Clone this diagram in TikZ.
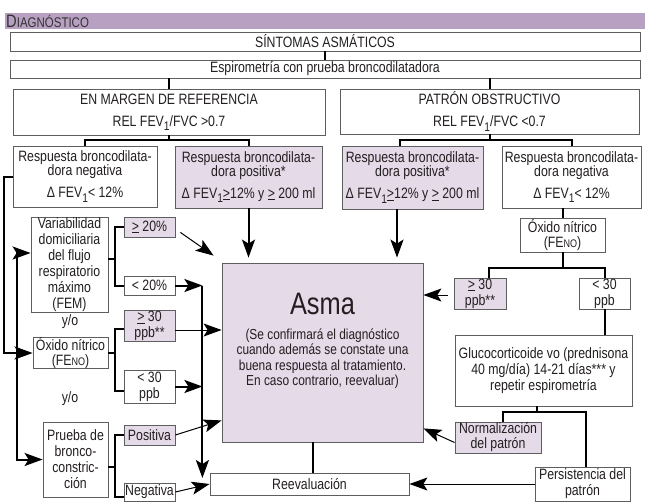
\documentclass[tikz,border=0pt]{standalone}
\usepackage{fontspec}
\setmainfont{Liberation Sans}[FakeStretch=0.82]
\usetikzlibrary{arrows.meta,calc}
\definecolor{hdr}{HTML}{B8A0C2}
\definecolor{lav}{HTML}{E4DAE8}
\definecolor{bord}{HTML}{5E5E5E}
\definecolor{txt}{HTML}{231F20}
\definecolor{hdtxt}{HTML}{333333}
\newcommand\lo[1]{\raisebox{-0.55ex}{\fontsize{12.5}{12.5}\selectfont #1}}
\newcommand\gequ{\underline{>}}
\newcommand\fs{\fontsize{15}{16}\selectfont}
\newcommand\sm{\fontsize{11}{11}\selectfont}
\begin{document}
\begin{tikzpicture}[x=1pt,y=-1pt,
  box/.style={draw=bord, line width=0.8pt, fill=white, inner sep=0pt, align=center, font=\fs, text=txt},
  pbox/.style={box, fill=lav},
  lbl/.style={inner sep=0pt, align=center, font=\fs, text=txt},
  conn/.style={draw=black, line width=2pt},
  arrT/.style={conn, -{Stealth[length=18pt,width=13pt,inset=4pt]}},
  arrt/.style={draw=black, line width=1pt, -{Stealth[length=18pt,width=13pt,inset=4pt]}}]
\useasboundingbox (0,0) rectangle (645,501);
\fill[white] (0,0) rectangle (645,501);
% header
\fill[hdr] (5,13) rectangle (645,29);
\node[anchor=west, inner sep=0pt, text=hdtxt, font=\fontsize{18}{18}\selectfont] (head) at (6,21.5) {D{\fontsize{14}{14}\selectfont IAGNÓSTICO}};
% boxes
\node[box, minimum width=630pt, minimum height=19pt] (sint) at (325,41.5) {SÍNTOMAS ASMÁTICOS};
\node[box, minimum width=630pt, minimum height=18pt] (espi) at (325,69) {Espirometría con prueba broncodilatadora};
\node[box, minimum width=312pt, minimum height=46pt] (marg) at (169,112) {EN MARGEN DE REFERENCIA\\[6pt]REL FEV\lo{1}/FVC >0.7};
\node[box, minimum width=299pt, minimum height=45pt] (patr) at (489.5,111.5) {PATRÓN OBSTRUCTIVO\\[6pt]REL FEV\lo{1}/FVC <0.7};
\node[box, minimum width=144pt, minimum height=61pt] (negL) at (85,176.5) {Respuesta broncodilata-\\[-2pt]dora negativa\\[6pt]Δ FEV\lo{1}< 12\%};
\node[pbox, minimum width=147pt, minimum height=62pt] (posL) at (248.5,177) {Respuesta broncodilata-\\[-2pt]dora positiva*\\[6pt]Δ FEV\lo{1}\gequ12\% y \gequ{} 200 ml};
\node[pbox, minimum width=141pt, minimum height=63pt] (posR) at (412.5,177.5) {Respuesta broncodilata-\\[-2pt]dora positiva*\\[6pt]Δ FEV\lo{1}\gequ12\% y \gequ{} 200 ml};
\node[box, minimum width=139pt, minimum height=62pt] (negR) at (571.5,177) {Respuesta broncodilata-\\[-2pt]dora negativa\\[6pt]Δ FEV\lo{1}< 12\%};
\node[box, minimum width=85pt, minimum height=34pt] (oxR) at (562.5,235) {Óxido nítrico\\[-1pt](FE{\sm NO})};
\node[pbox, minimum width=52pt, minimum height=31pt] (ge30R) at (480,293.5) {\gequ{} 30\\ppb**};
\node[box, minimum width=51pt, minimum height=31pt] (lt30R) at (604.5,293.5) {< 30\\ppb};
\node[box, minimum width=177pt, minimum height=71pt] (gluc) at (543.5,370.5) {Glucocorticoide vo (prednisona\\40 mg/día) 14-21 días*** y\\repetir espirometría};
\node[pbox, minimum width=86pt, minimum height=31pt] (norm) at (498,437.5) {Normalización\\[-1pt]del patrón};
\node[box, minimum width=95pt, minimum height=34pt] (pers) at (582.5,484) {Persistencia del\\patrón};
\node[pbox, minimum width=201pt, minimum height=179pt] (asma) at (322.5,352.5) {};
\node[lbl, font=\fontsize{31}{32}\selectfont] (asmaT) at (322.5,304) {Asma};
\node[lbl, font=\fontsize{14.5}{15.5}\selectfont] (asmaS) at (322.5,358.5) {(Se confirmará el diagnóstico\\cuando además se constate una\\buena respuesta al tratamiento.\\En caso contrario, reevaluar)};
\node[box, minimum width=199pt, minimum height=22pt] (reev) at (309.5,484) {Reevaluación};
\node[box, minimum width=77pt, minimum height=95pt] (vari) at (69.5,264.5) {Variabilidad\\domiciliaria\\del flujo\\respiratorio\\máximo\\(FEM)};
\node[pbox, minimum width=51pt, minimum height=20pt] (ge20) at (149.5,227) {\gequ{} 20\%};
\node[box, minimum width=51pt, minimum height=19pt] (lt20) at (149.5,285.5) {< 20\%};
\node[box, minimum width=75pt, minimum height=30pt] (oxL) at (70.5,353) {Óxido nítrico\\[-1pt](FE{\sm NO})};
\node[pbox, minimum width=51pt, minimum height=31pt] (ge30L) at (149.5,326) {\gequ{} 30\\ppb**};
\node[box, minimum width=51pt, minimum height=33pt] (lt30L) at (149.5,386.5) {< 30\\ppb};
\node[box, minimum width=65pt, minimum height=75pt] (prue) at (75.5,459.5) {Prueba de\\bronco-\\constric-\\ción};
\node[pbox, minimum width=51pt, minimum height=20pt] (posi) at (149.5,435) {Positiva};
\node[box, minimum width=51pt, minimum height=18pt] (nega) at (149.5,492) {Negativa};
\node[lbl] (yo1) at (70,322) {y/o};
\node[lbl] (yo2) at (70,399) {y/o};
% connectors top
\draw[conn] (sint.south) -- (espi.north);
\draw[conn] (espi.south -| marg.north) -- (marg.north);
\draw[conn] (espi.south -| patr.north) -- (patr.north);
\coordinate (mb) at ($(marg.south)+(0,5)$);
\draw[conn] (marg.south) -- (mb);
\draw[conn] (negL.north) |- (mb) -| (posL.north);
\coordinate (pb) at ($(patr.south)+(0,6)$);
\coordinate (pr1) at ([xshift=-12.5pt]posR.north);
\draw[conn] (patr.south) -- (pb);
\draw[conn] (pr1) |- (pb) -| (negR.north);
\draw[conn] (oxR.north |- negR.south) -- (oxR.north);
\coordinate (ob) at ($(oxR.south)+(0,16)$);
\coordinate (g3r) at ([xshift=9pt]ge30R.north);
\draw[conn] (oxR.south) -- (ob);
\draw[conn] (g3r) |- (ob) -| (lt30R.north);
\draw[conn] (lt30R.south) -- (lt30R.south |- gluc.north);
\coordinate (gs) at ($(gluc.south)+(-6.5,0)$);
\coordinate (gb) at ($(gluc.south)+(-6.5,6)$);
\coordinate (nn) at ([xshift=5pt]norm.north);
\coordinate (pn) at ([xshift=3.5pt]pers.north);
\draw[conn] (gs) -- (gb);
\draw[conn] (nn) |- (gb) -| (pn);
\coordinate (rn) at ([xshift=3.5pt]reev.north);
\draw[conn] (rn |- asma.south) -- (rn);
% arrows into Asma
\coordinate (pr2) at ([xshift=-15.5pt]posR.south);
\draw[arrT] (posL.south) -- ($(posL.south |- asma.north)+(0,-5)$);
\draw[arrT] (pr2) -- ($(pr2 |- asma.north)+(0,-5)$);
\draw[arrt] ([xshift=-6pt,yshift=-1.5pt]ge30R.west) -- ($(ge30R.west -| asma.east)+(0,1.5)$);
\coordinate (an) at ($(asma.south east)+(0,-14)$);
\draw[arrt] ([yshift=-5pt]norm.west) -- (an);
\draw[arrt] (pers.west) -- (pers.west -| reev.east);
\draw[arrt] ($(ge20.south east)+(5,-5)$) -- ($(asma.north west)+(-8,-7)$);
\coordinate (barT) at ($(lt20.east)+(27,0)$);
\coordinate (barB) at (barT |- 0,478);
\draw[arrT] (lt20.east) -- (barT);
\draw[arrT] (barT) -- (barB);
\draw[arrT] (lt30L.east) -- (lt30L.east -| barT);
\coordinate (g3) at ([yshift=-4pt]ge30L.east);
\draw[arrt] (g3) -- (g3 -| asma.west);
\draw[arrt] (posi.east) -- ($(asma.south west)+(0,-22)$);
\draw[arrt] (nega.east) -- (reev.west);
% left side
\draw[arrT] (negL.west) -- ++(-9,0) |- (oxL.west);
\draw[conn, {Stealth[length=18pt,width=13pt,inset=4pt]}-{Stealth[length=18pt,width=13pt,inset=4pt]}] ([yshift=11.5pt]vari.west) -| ($(prue.west)+(-26,0)$) -- (prue.west);
\draw[conn] (ge20.west) -- ++(-9,0) |- (lt20.west);
\draw[conn] ([yshift=5.5pt]vari.east) -- ++(7,0);
\draw[conn] ([yshift=-3pt]ge30L.west) -- ++(-9,0) |- ([yshift=-4.5pt]lt30L.west);
\draw[conn] (oxL.east) -- ++(7,0);
\draw[conn] (posi.west) -- ++(-9,0) |- ([yshift=-5pt]nega.west);
\draw[conn] ([yshift=-7.5pt]prue.east) -- ++(7,0);
\end{tikzpicture}
\end{document}
